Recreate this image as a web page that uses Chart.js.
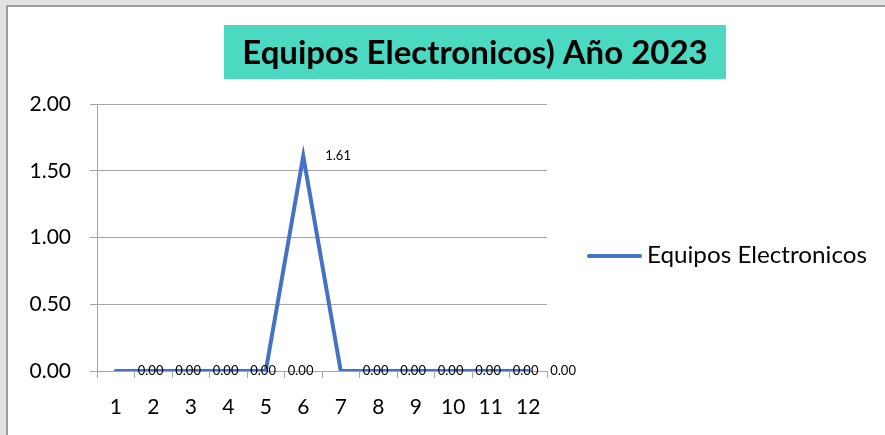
<!DOCTYPE html>
<html>
<head>
<meta charset="utf-8">
<script src="https://cdn.jsdelivr.net/npm/chart.js@4.4.1/dist/chart.umd.min.js"></script>
<style>
	html, body { margin: 0; padding: 0; }
	body { width: 885px; height: 435px; background: #e2e2e2; position: relative; overflow: hidden; }
	#sheet { position: absolute; left: 6px; top: 5px; width: 900px; height: 450px; background: #fff;
		border-left: 2px solid #9c9c9c; border-top: 2px solid #9c9c9c; }
	#wrap { position: absolute; left: 0; top: 0; width: 885px; height: 435px; }
</style>
</head>
<body>
<div id="sheet"></div>
<div id="wrap"><canvas id="chart1" width="885" height="435"></canvas></div>
<script>
(() => {
	'use strict'

	// Data
	const chartTitle = 'Equipos Electronicos) Año 2023';
	const seriesName = 'Equipos Electronicos';
	const months = ['1', '2', '3', '4', '5', '6', '7', '8', '9', '10', '11', '12'];
	const equiposValues = [0, 0, 0, 0, 0, 1.61, 0, 0, 0, 0, 0, 0];
	const yTickValues = [0, 0.5, 1, 1.5, 2];

	const lineColor = '#4472c4';
	const gridColor = '#a6a6a6';
	const fontFamily = 'Lato, "Open Sans", sans-serif';

	// Title with teal box, drawn off-centre like the original
	const titleBox = {
		id: 'titleBox',
		afterDraw(chart) {
			const ctx = chart.ctx;
			ctx.save();
			ctx.fillStyle = '#4bd9c1';
			ctx.fillRect(224, 25, 502, 54);
			ctx.font = 'bold 33px ' + fontFamily;
			const w = ctx.measureText(chartTitle).width;
			const sx = Math.min(1, 484 / w);
			ctx.translate(475, 53);
			ctx.scale(sx, 1);
			ctx.fillStyle = '#000';
			ctx.textAlign = 'center';
			ctx.textBaseline = 'middle';
			ctx.fillText(chartTitle, 0, 0);
			ctx.restore();
		}
	};

	// Legend on the right
	const sideLegend = {
		id: 'sideLegend',
		afterDraw(chart) {
			const ctx = chart.ctx;
			ctx.save();
			ctx.strokeStyle = lineColor;
			ctx.lineWidth = 4;
			ctx.lineCap = 'round';
			ctx.beginPath();
			ctx.moveTo(589, 256);
			ctx.lineTo(640, 256);
			ctx.stroke();
			ctx.fillStyle = '#000';
			ctx.font = '23px ' + fontFamily;
			ctx.textBaseline = 'middle';
			const w = ctx.measureText(seriesName).width;
			ctx.translate(647, 256);
			ctx.scale(220 / w, 1);
			ctx.fillText(seriesName, 0, 0);
			ctx.restore();
		}
	};

	// Value labels to the right of each point
	const valueLabels = {
		id: 'valueLabels',
		afterDatasetsDraw(chart) {
			const ctx = chart.ctx;
			const meta = chart.getDatasetMeta(0);
			ctx.save();
			ctx.fillStyle = '#000';
			ctx.font = '13px ' + fontFamily;
			ctx.textBaseline = 'middle';
			meta.data.forEach((pt, i) => {
				ctx.fillText(equiposValues[i].toFixed(2), pt.x + 22, pt.y);
			});
			ctx.restore();
		}
	};

	const ctx1 = document.getElementById('chart1');
	new Chart(ctx1, {
		type: 'line',
		data: {
			labels: months,
			datasets: [{
				label: seriesName,
				data: equiposValues,
				borderColor: lineColor,
				borderWidth: 4,
				borderCapStyle: 'round',
				borderJoinStyle: 'miter',
				pointRadius: 0,
				tension: 0,
				fill: false
			}]
		},
		options: {
			responsive: false,
			animation: false,
			events: [],
			layout: {
				padding: { left: 0, top: 104, right: 338, bottom: 0 }
			},
			plugins: {
				legend: { display: false },
				title: { display: false },
				tooltip: { enabled: false }
			},
			scales: {
				x: {
					type: 'category',
					offset: true,
					afterFit(scale) { scale.height = 64; },
					grid: {
						offset: true,
						drawOnChartArea: false,
						drawTicks: true,
						tickLength: 7,
						color: gridColor
					},
					border: { display: true, color: gridColor, width: 1 },
					ticks: {
						color: '#000',
						padding: 17,
						font: { family: fontFamily, size: 21 },
						maxRotation: 0
					}
				},
				y: {
					min: 0,
					max: 2,
					afterFit(scale) { scale.width = 97; },
					afterBuildTicks(scale) {
						scale.ticks = yTickValues.map(v => ({ value: v }));
					},
					grid: {
						color: gridColor,
						drawTicks: true,
						tickLength: 7
					},
					border: { display: true, color: gridColor, width: 1 },
					ticks: {
						color: '#000',
						padding: 19,
						font: { family: fontFamily, size: 21 },
						callback: v => Number(v).toFixed(2)
					}
				}
			}
		},
		plugins: [titleBox, sideLegend, valueLabels]
	});
})()
</script>
</body>
</html>
